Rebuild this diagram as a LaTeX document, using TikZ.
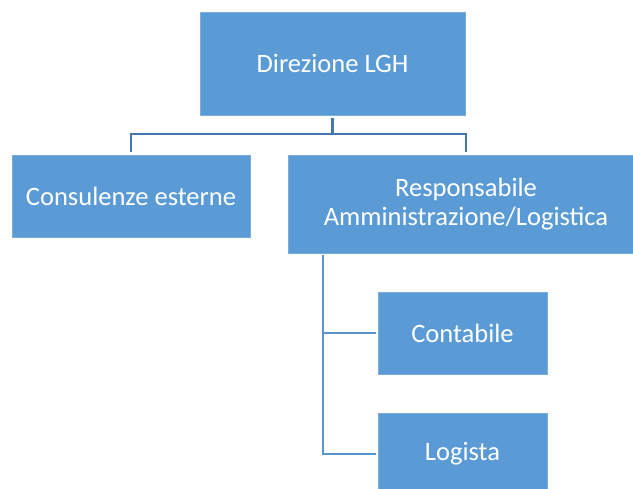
\documentclass[tikz,border=0pt]{standalone}
\usepackage{fontspec}
\setmainfont{Carlito}
\newlength{\du}
\setlength{\du}{0.75pt}
\definecolor{boxfill}{HTML}{5B9BD5}
\definecolor{boxedge}{HTML}{7AAEDF}
\definecolor{linkdark}{HTML}{4677AB}
\definecolor{linklight}{HTML}{5A93CC}

\tikzset{
  orgbox/.style={fill=boxfill, draw=boxedge, line width=0.6\du, text=white,
    align=center, inner sep=0pt,
    font=\fontsize{19.9}{21.6}\selectfont},
  linkline/.style={draw=linkdark, line width=2.6\du},
  sublink/.style={draw=linklight, line width=2.6\du}
}

\begin{document}
\begin{tikzpicture}[x=\du,y=-\du]
\useasboundingbox (0,0) rectangle (633,489);
% boxes
\node[orgbox, minimum width=265\du, minimum height=103\du] (dir) at (332.5,63.5) {Direzione LGH};
\node[orgbox, minimum width=238\du, minimum height=82\du] (cons) at (131,196) {Consulenze esterne};
\node[orgbox, minimum width=356\du, minimum height=98\du] (resp) at (466,204) {Responsabile\\Amministrazione/Logistica};
\node[orgbox, minimum width=169\du, minimum height=82\du] (cont) at (462.5,333) {Contabile};
\node[orgbox, minimum width=169\du, minimum height=82\du] (logi) at (462.5,454) {Logista};
% connectors
\coordinate (split) at (332.5,134);
\coordinate (fork) at (323,253);
\draw[linkline, shorten <=3\du] (dir.south) -- (split);
\draw[linkline, shorten >=3\du] (split) -| (cons.north);
\draw[linkline, shorten >=3\du] (split) -| (resp.north);
\draw[sublink, shorten <=2\du, shorten >=2\du] (fork) |- (cont.west);
\draw[sublink, shorten <=2\du, shorten >=2\du] (fork) |- (logi.west);
\end{tikzpicture}
\end{document}
